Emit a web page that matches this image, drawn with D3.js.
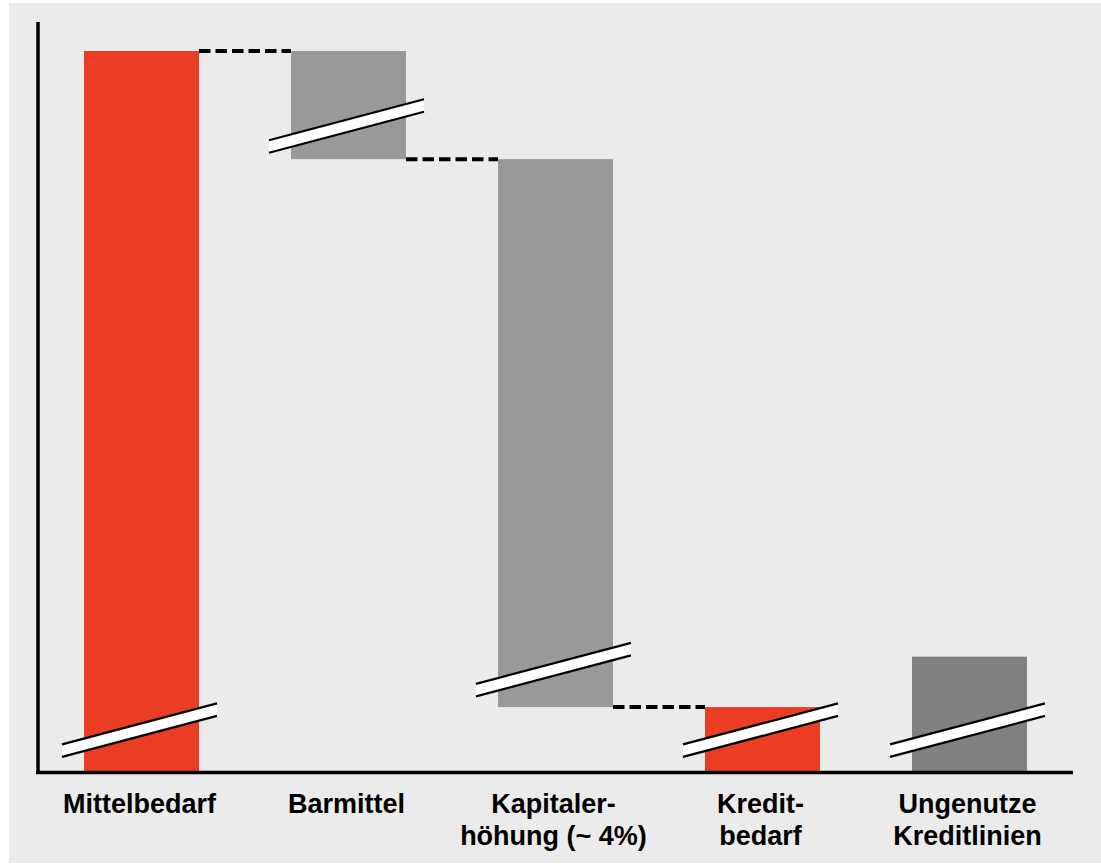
<!DOCTYPE html>
<html>
<head>
<meta charset="utf-8">
<script src="https://cdn.jsdelivr.net/npm/d3@7"></script>
<style>
    body { margin: 0; background: #ffffff; }
    svg { display: block; }
</style>
</head>
<body>
<svg id="chart" width="1101" height="865"></svg>
<script>
// chart data
const categories = ["Mittelbedarf", "Barmittel", "Kapitalerhöhung", "Kreditbedarf", "Ungenutze Kreditlinien"];
const labelLines = [["Mittelbedarf"], ["Barmittel"], ["Kapitaler-", "höhung (~ 4%)"], ["Kredit-", "bedarf"], ["Ungenutze", "Kreditlinien"]];
const values = [100, -15, -76, 9, 16];
const kinds = ["total", "step", "step", "total", "extra"];
// where the axis break marks sit on each bar (value units)
const breakValues = [5.8, 89.6, 14.2, 5.8, 5.8];

const colors = { total: "#ea3d24", step: "#999999", extra: "#808080" };

let svg = d3.select("#chart");

svg.append("rect")
    .attr("x", 9)
    .attr("y", 3)
    .attr("width", 1092)
    .attr("height", 860)
    .attr("fill", "#ebebeb");

let x = d3.scaleBand()
    .domain(categories)
    .range([38, 1073])
    .paddingInner(92 / 207)
    .paddingOuter(46 / 207);

let y = d3.scaleLinear()
    .domain([0, 100])
    .range([772, 51]);

// running totals for the waterfall
let bars = [];
let running = 0;
categories.forEach((cat, i) => {
    let kind = kinds[i];
    let start, end;
    if (kind == "step") {
        start = running;
        end = running + values[i];
        running = end;
    } else if (kind == "total") {
        start = 0;
        end = values[i];
        running = end;
    } else {
        start = 0;
        end = values[i];
    }
    bars.push({ cat, kind, start, end, lines: labelLines[i], brk: breakValues[i] });
});

let barGroup = svg.append('g').attr("id", "bars-g");
barGroup.selectAll('rect')
    .data(bars)
    .enter()
    .append('rect')
    .attr('x', d => x(d.cat))
    .attr('width', x.bandwidth())
    .attr('y', d => y(Math.max(d.start, d.end)))
    .attr('height', d => Math.abs(y(d.start) - y(d.end)))
    .attr('fill', d => colors[d.kind]);

// dashed connectors between consecutive waterfall bars
let connectors = [];
for (let i = 0; i < bars.length - 1; i++) {
    if (bars[i + 1].kind == "extra") continue;
    connectors.push({ x1: x(bars[i].cat) + x.bandwidth(), x2: x(bars[i + 1].cat), v: bars[i].end });
}
svg.append('g').selectAll('line')
    .data(connectors)
    .enter()
    .append('line')
    .attr('x1', d => d.x1)
    .attr('x2', d => d.x2)
    .attr('y1', d => y(d.v))
    .attr('y2', d => y(d.v))
    .attr('stroke', '#000')
    .attr('stroke-width', 4)
    .attr('stroke-dasharray', '11.5,5');

// axis break marks
const BREAK_W = 155, BREAK_RISE = 41, BREAK_T = 12.5;
let breakGroup = svg.append('g').attr("id", "breaks-g");
bars.forEach(d => {
    let cx = x(d.cat) + x.bandwidth() / 2 - 2;
    let cy = y(d.brk);
    let x0 = cx - BREAK_W / 2, x1 = cx + BREAK_W / 2;
    let yTop0 = cy + BREAK_RISE / 2 - BREAK_T / 2, yTop1 = cy - BREAK_RISE / 2 - BREAK_T / 2;
    let g = breakGroup.append('g');
    g.append('polygon')
        .attr('points', [[x0, yTop0], [x1, yTop1], [x1, yTop1 + BREAK_T], [x0, yTop0 + BREAK_T]].map(p => p.join(',')).join(' '))
        .attr('fill', '#fff');
    [0, BREAK_T].forEach(off => {
        g.append('line')
            .attr('x1', x0).attr('y1', yTop0 + off)
            .attr('x2', x1).attr('y2', yTop1 + off)
            .attr('stroke', '#000')
            .attr('stroke-width', 2.2);
    });
});

// axes
svg.append('line')
    .attr('x1', 38).attr('x2', 38)
    .attr('y1', 22).attr('y2', y(0) + 1.5)
    .attr('stroke', '#000').attr('stroke-width', 3.5);
svg.append('line')
    .attr('x1', 36).attr('x2', 1073)
    .attr('y1', y(0) + 0.5).attr('y2', y(0) + 0.5)
    .attr('stroke', '#000').attr('stroke-width', 3.5);

// category labels
let labels = svg.append('g')
    .attr('font-family', '"Liberation Sans", Arial, sans-serif')
    .attr('font-weight', 'bold')
    .attr('font-size', '27px')
    .attr('fill', '#000')
    .attr('text-anchor', 'middle');
bars.forEach(d => {
    let cx = x(d.cat) + x.bandwidth() / 2 - 2;
    let t = labels.append('text')
        .attr('x', cx)
        .attr('y', 813);
    d.lines.forEach((line, i) => {
        t.append('tspan')
            .attr('x', cx)
            .attr('dy', i == 0 ? 0 : 31.7)
            .text(line);
    });
});
</script>
</body>
</html>
